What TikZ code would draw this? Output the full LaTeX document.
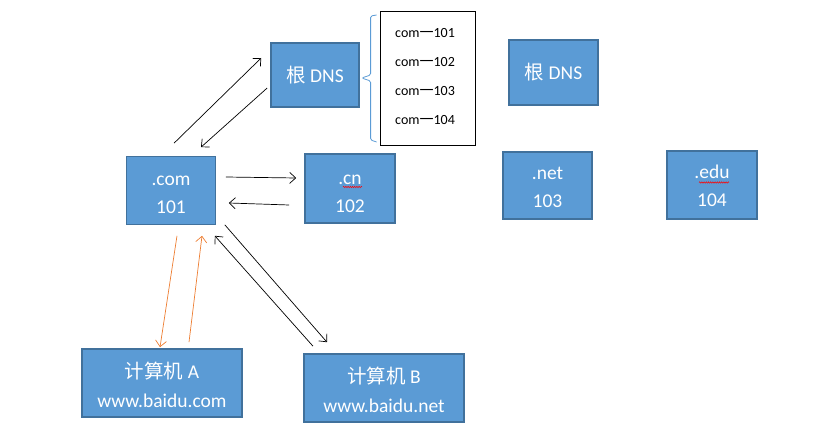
\documentclass[tikz,border=0pt]{standalone}
\usepackage{fontspec}
\setmainfont{Carlito}
\newfontfamily\cjk{Noto Sans CJK SC}
\usetikzlibrary{arrows.meta,decorations.pathmorphing}
\definecolor{boxfill}{HTML}{5B9BD5}
\definecolor{boxline}{HTML}{41719C}
\definecolor{orangeline}{HTML}{ED7D31}
\newcommand\padtop[1]{\rule{0pt}{#1}}
\tikzset{
  bluebox/.style={draw=boxline,fill=boxfill,line width=1.6pt,text=white,
    inner sep=0pt,align=center,font=\fontsize{19.5}{28}\selectfont},
  listtext/.style={anchor=base west,inner sep=0pt,font=\fontsize{14}{16}\selectfont},
  arr/.style={line width=0.7pt,-{Straight Barb[length=6pt,width=11pt]}},
  orarr/.style={arr,draw=orangeline},
  wavy/.style={draw=red,line width=0.5pt,decorate,
    decoration={snake,segment length=2.2pt,amplitude=0.7pt}}
}
\begin{document}
\begin{tikzpicture}[x=1pt,y=-1pt]
\useasboundingbox (0,0) rectangle (838,438);
% boxes
\node[bluebox,minimum width=88pt,minimum height=64pt] (rootL) at (315,75) {{\cjk 根} DNS};
\node[bluebox,minimum width=89pt,minimum height=65pt] (rootR) at (553.5,72.5) {{\cjk 根} DNS};
\node[bluebox,minimum width=89pt,minimum height=68pt] (com) at (171,190.5) {\padtop{18.4pt}.com\\101};
\node[bluebox,minimum width=90pt,minimum height=69pt] (cn) at (350,188.5) {\padtop{20.5pt}.cn\\102};
\node[bluebox,minimum width=89pt,minimum height=67pt] (net) at (547.5,185.5) {\padtop{17pt}.net\\103};
\node[bluebox,minimum width=90pt,minimum height=68pt] (edu) at (712,185) {\padtop{16pt}.edu\\104};
\node[bluebox,minimum width=160pt,minimum height=68pt,font=\fontsize{19.5}{28.5}\selectfont] (A) at (162,383) {\padtop{20pt}{\cjk 计算机} A\\www.baidu.com};
\node[bluebox,minimum width=160pt,minimum height=68pt,font=\fontsize{19.5}{28.5}\selectfont] (B) at (384,388) {\padtop{20.5pt}{\cjk 计算机} B\\www.baidu.net};
% list box
\node[draw=black,line width=0.8pt,minimum width=95pt,minimum height=134pt,inner sep=0pt] (list) at (427.5,78) {};
\node[listtext] (l1) at (395,37.5) {com{\cjk 一}101};
\node[listtext] (l2) at (395,66.5) {com{\cjk 一}102};
\node[listtext] (l3) at (395,95.5) {com{\cjk 一}103};
\node[listtext] (l4) at (395,124.5) {com{\cjk 一}104};
% brace
\draw[boxfill,line width=0.8pt,rounded corners=1.5pt]
  ([shift={(-3,-63)}]list.west) -- ([shift={(-9,-62)}]list.west)
  -- ([shift={(-9,-3)}]list.west) -- ([shift={(-18,0)}]list.west)
  -- ([shift={(-9,3)}]list.west) -- ([shift={(-9,62)}]list.west)
  -- ([shift={(-3,64)}]list.west);
% spell-check marks
\draw[wavy] ([shift={(-7,-1.5)}]cn.center) -- ([shift={(12,-1.5)}]cn.center);
\draw[wavy] ([shift={(-13,-2.5)}]edu.center) -- ([shift={(17,-2.5)}]edu.center);
% arrows
\draw[arr] ([shift={(3,-12.5)}]com.north) -- ([shift={(-9,-17)}]rootL.west);
\draw[arr] ([shift={(-3,13)}]rootL.west) -- ([shift={(30,-8.5)}]com.north);
\draw[arr] ([shift={(9.5,-13.5)}]com.east) -- ([shift={(-8,-10.5)}]cn.west);
\draw[arr] ([shift={(-15,16.5)}]cn.west) -- ([shift={(12.5,12.5)}]com.east);
\draw[orarr] ([shift={(6,10.5)}]com.south) -- ([shift={(-2,-1)}]A.north);
\draw[orarr] ([shift={(27,-6)}]A.north) -- ([shift={(31,10.5)}]com.south);
\draw[arr] ([shift={(8.5,-0.5)}]com.south east) -- ([shift={(-57,-11)}]B.north);
\draw[arr] ([shift={(-71,-7)}]B.north) -- ([shift={(-1.5,10.5)}]com.south east);
\end{tikzpicture}
\end{document}
